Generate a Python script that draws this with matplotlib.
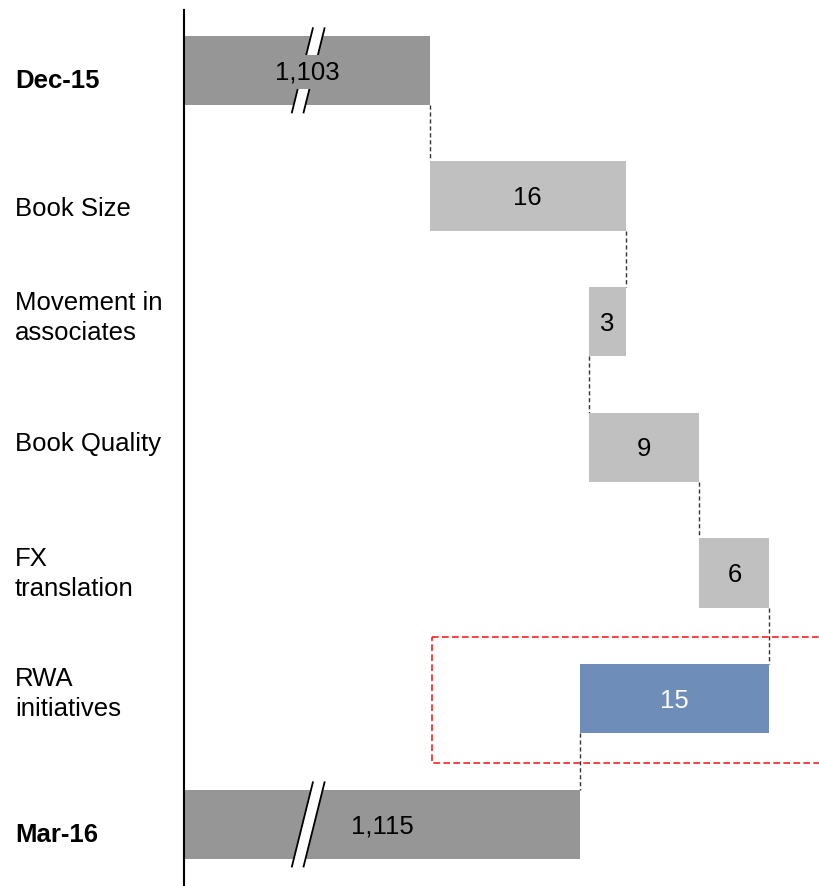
import matplotlib.pyplot as plt
import matplotlib.transforms as mtransforms
from matplotlib.patches import Rectangle, Polygon
import numpy as np

plt.rcParams['font.family'] = ['Liberation Sans', 'DejaVu Sans']

# data
categories = ['Dec-15', 'Book Size', 'Movement in\nassociates', 'Book Quality',
              'FX\ntranslation', 'RWA\ninitiatives', 'Mar-16']
start_value = 1103.0
changes = [15.9, -3.0, 9.0, 5.7, -15.4]
end_value = 1115.2
labels = ['1,103', '16', '3', '9', '6', '15', '1,115']

AXIS_START = 1083.0   # axis is broken, totals start here
TOTAL_COLOR = '#969696'
STEP_COLOR = '#c0c0c0'
HIGHLIGHT_COLOR = '#6e8eb9'
FS = 18.5

fig = plt.figure(figsize=(8.2, 8.86), dpi=100)
ax = fig.add_axes([184 / 820, 0, 636 / 820, 876 / 886])

ypos = np.arange(len(categories))
h = 0.55

# running level after each row
level = [start_value]
for c in changes:
    level.append(level[-1] + c)

lefts = [AXIS_START]
widths = [start_value - AXIS_START]
colors = [TOTAL_COLOR]
for i, c in enumerate(changes):
    lefts.append(min(level[i], level[i + 1]))
    widths.append(abs(c))
    colors.append(STEP_COLOR)
colors[5] = HIGHLIGHT_COLOR
lefts.append(AXIS_START)
widths.append(end_value - AXIS_START)
colors.append(TOTAL_COLOR)

ax.barh(ypos, widths, left=lefts, height=h, color=colors, zorder=2)

# dashed connectors
for i in range(len(categories) - 1):
    ax.plot([level[i], level[i]], [i + h / 2, i + 1 - h / 2], color='#333333',
            lw=1, ls=(0, (3, 2)), zorder=1)

# axis break marks
def draw_break(xc, yc):
    sx, sy, g = 0.87, 0.342, 0.475
    pts = [(xc - g + sx, yc - sy), (xc + g + sx, yc - sy),
           (xc + g - sx, yc + sy), (xc - g - sx, yc + sy)]
    ax.add_patch(Polygon(pts, closed=True, facecolor='white', edgecolor='none',
                         zorder=3, clip_on=False))
    for s in (-g, g):
        ax.plot([xc + s + sx, xc + s - sx], [yc - sy, yc + sy], color='black',
                lw=1.3, zorder=3, clip_on=False, solid_capstyle='butt')

draw_break(1093.1, 0)
draw_break(1093.1, 6)

# value labels
for i, lab in enumerate(labels):
    kw = {}
    if i == 0:
        kw['bbox'] = dict(boxstyle='square,pad=0.2', facecolor=TOTAL_COLOR,
                          edgecolor='none')
    ax.text(lefts[i] + widths[i] / 2, i + 0.015, lab, ha='center', va='center',
            fontsize=FS, color='white' if i == 5 else 'black', zorder=4, **kw)

# category labels at the left
trans = mtransforms.blended_transform_factory(fig.transFigure, ax.transData)
offsets_px = [11, 13, -4, -3, 1, -5, 11]
for i, cat in enumerate(categories):
    bold = i in (0, len(categories) - 1)
    fig.text(15 / 820, i + offsets_px[i] / 125.6, cat, transform=trans,
             ha='left', va='center', fontsize=FS, linespacing=1.3,
             fontweight='bold' if bold else 'normal')

# highlight box around RWA row
ax.add_patch(Rectangle((1103.2, 4.51), 40, 1.005, fill=False,
                       edgecolor='#ff1f1f', lw=1.2, ls=(0, (4, 2)), zorder=5))

ax.set_xlim(AXIS_START, AXIS_START + 636 / 12.3)
ax.set_ylim(6.49, -0.48)
ax.set_xticks([])
ax.set_yticks([])
for side in ('top', 'right', 'bottom'):
    ax.spines[side].set_visible(False)
ax.spines['left'].set_linewidth(1.5)
ax.spines['left'].set_color('black')

fig.savefig('out.png', dpi=100)
